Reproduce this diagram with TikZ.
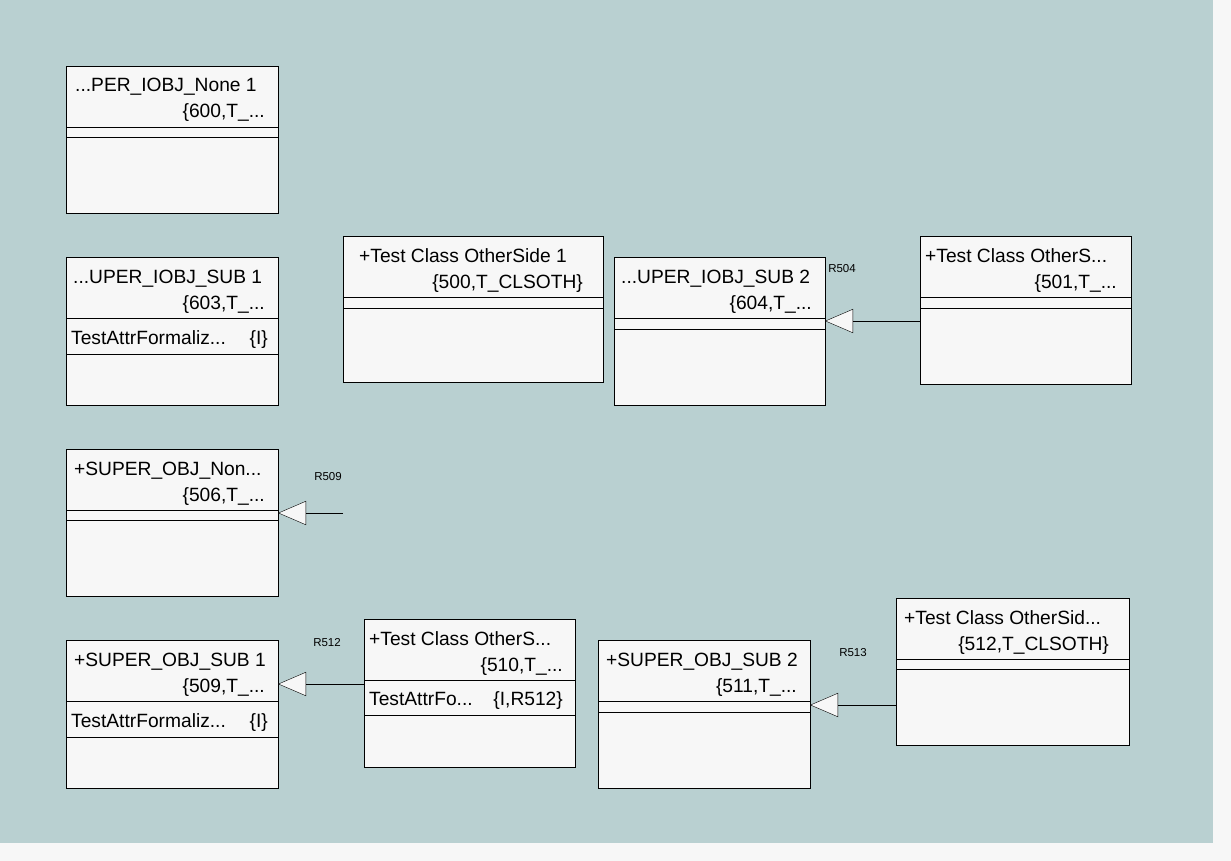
\documentclass[tikz,border=0pt]{standalone}
\usepackage{fontspec}
\setmainfont{Liberation Sans}
\usetikzlibrary{arrows.meta}
\definecolor{canvas}{RGB}{185,208,209}
\definecolor{pagegrey}{RGB}{247,247,247}
\definecolor{boxfill}{RGB}{247,247,247}
\begin{document}
\begin{tikzpicture}
  [x=1pt,y=-1pt,
   cls/.style={rectangle,draw=black,fill=boxfill,inner sep=0pt,outer sep=0pt,anchor=north west},
   ttl/.style={font=\fontsize{19.2}{22}\selectfont,inner sep=0pt},
   rel/.style={font=\fontsize{11.5}{13}\selectfont,inner sep=0pt},
   gen/.style={draw=black,-{Triangle[open,length=28pt,width=24pt,fill=boxfill]}}]
\useasboundingbox (0,0) rectangle (1231,861);
  \fill[pagegrey] (0,0) rectangle (1231,861);
  \fill[canvas] (0,0) rectangle (1213,843);

  \node[cls,minimum width=212pt,minimum height=147pt] (a) at (66,66) {};
  \node[cls,minimum width=212pt,minimum height=148pt] (b) at (66,257) {};
  \node[cls,minimum width=260pt,minimum height=146pt] (c) at (343,236) {};
  \node[cls,minimum width=211pt,minimum height=148pt] (d) at (614,257) {};
  \node[cls,minimum width=211pt,minimum height=148pt] (e) at (920,236) {};
  \node[cls,minimum width=212pt,minimum height=147pt] (f) at (66,449) {};
  \node[cls,minimum width=212pt,minimum height=148pt] (g) at (66,640) {};
  \node[cls,minimum width=211pt,minimum height=148pt] (h) at (364,619) {};
  \node[cls,minimum width=212pt,minimum height=148pt] (i) at (598,640) {};
  \node[cls,minimum width=233pt,minimum height=147pt] (j) at (896,598) {};

  \foreach \n/\ya/\yb in {a/127/137, b/318/354, c/297/308, d/318/329, e/297/308,
                          f/510/520, g/701/737, h/680/715, i/701/712, j/659/669}
    \draw (\n.west |- 0,\ya) -- (\n.east |- 0,\ya) (\n.west |- 0,\yb) -- (\n.east |- 0,\yb);

  \node[ttl,anchor=base west] (a1) at (75,92) {...PER\_IOBJ\_None 1};
  \node[ttl,anchor=base east] (a2) at (265,118) {\{600,T\_...};
  \node[ttl,anchor=base west] (b1) at (73,283) {...UPER\_IOBJ\_SUB 1};
  \node[ttl,anchor=base east] (b2) at (265,309) {\{603,T\_...};
  \node[ttl,anchor=base west] (b3) at (71,344) {TestAttrFormaliz...};
  \node[ttl,anchor=base east] (b4) at (268,344) {\{I\}};
  \node[ttl,anchor=base west] (c1) at (359,262) {+Test Class OtherSide 1};
  \node[ttl,anchor=base east] (c2) at (583,288) {\{500,T\_CLSOTH\}};
  \node[ttl,anchor=base west] (d1) at (621,283) {...UPER\_IOBJ\_SUB 2};
  \node[ttl,anchor=base east] (d2) at (812,309) {\{604,T\_...};
  \node[ttl,anchor=base west] (e1) at (925,262) {+Test Class OtherS...};
  \node[ttl,anchor=base east] (e2) at (1117,288) {\{501,T\_...};
  \node[ttl,anchor=base west] (f1) at (74,475) {+SUPER\_OBJ\_Non...};
  \node[ttl,anchor=base east] (f2) at (265,501) {\{506,T\_...};
  \node[ttl,anchor=base west] (g1) at (74,666) {+SUPER\_OBJ\_SUB 1};
  \node[ttl,anchor=base east] (g2) at (265,692) {\{509,T\_...};
  \node[ttl,anchor=base west] (g3) at (71,727) {TestAttrFormaliz...};
  \node[ttl,anchor=base east] (g4) at (268,727) {\{I\}};
  \node[ttl,anchor=base west] (h1) at (369,645) {+Test Class OtherS...};
  \node[ttl,anchor=base east] (h2) at (563,671) {\{510,T\_...};
  \node[ttl,anchor=base west] (h3) at (369,705) {TestAttrFo...};
  \node[ttl,anchor=base east] (h4) at (563,705) {\{I,R512\}};
  \node[ttl,anchor=base west] (i1) at (606,666) {+SUPER\_OBJ\_SUB 2};
  \node[ttl,anchor=base east] (i2) at (797,692) {\{511,T\_...};
  \node[ttl,anchor=base west] (j1) at (904,624) {+Test Class OtherSid...};
  \node[ttl,anchor=base east] (j2) at (1109,650) {\{512,T\_CLSOTH\}};

  \coordinate (r509) at (343,513);
  \foreach \from/\to/\y in {e/d/321, h/g/684, j/i/705}
    \draw[gen] (\from.west |- 0,\y) -- (\to.east |- 0,\y);
  \draw[gen] (r509) -- (f.east |- r509);

  \node[rel] (l504) at (842,269) {R504};
  \node[rel] (l509) at (328,477) {R509};
  \node[rel] (l512) at (327,643) {R512};
  \node[rel] (l513) at (853,653) {R513};
\end{tikzpicture}
\end{document}
